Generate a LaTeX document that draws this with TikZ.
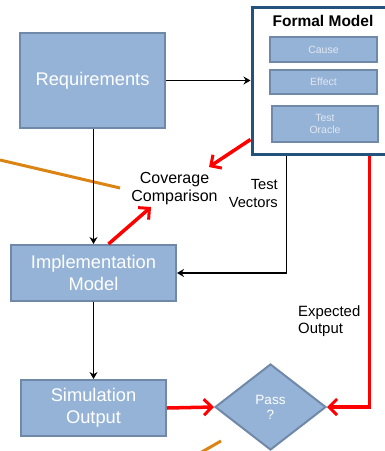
\documentclass[tikz,border=0pt]{standalone}
\usepackage{fontspec}
\setmainfont{Liberation Sans}
\usetikzlibrary{arrows.meta,shapes.geometric}
\definecolor{boxfill}{HTML}{95B3D7}
\definecolor{boxline}{HTML}{7089A8}
\definecolor{fmline}{HTML}{23527C}
\definecolor{smalltext}{HTML}{E2E8F2}
\definecolor{orangeline}{HTML}{DB8414}
\tikzset{
  bluebox/.style={draw=boxline, line width=2pt, fill=boxfill, text=white, align=center, inner sep=0pt, font=\fontsize{18.3}{21.5}\selectfont},
  smallbox/.style={draw=boxline, line width=2pt, fill=boxfill, text=smalltext, align=center, inner sep=0pt, font=\fontsize{10.5}{12}\selectfont, minimum width=106pt},
  blackarrow/.style={line width=1.8pt, -{Stealth[length=7pt,width=8pt]}},
  redarrow/.style={draw=red, line width=3.5pt, -{Straight Barb[length=8pt,width=16pt,line width=3pt]}},
  label/.style={align=center, inner sep=0pt, text=black},
  orange/.style={draw=orangeline, line width=3pt}
}
\begin{document}
\begin{tikzpicture}[x=1pt,y=-1pt]
\clip (0,0) rectangle (385,451);
\fill[white] (0,0) rectangle (385,451);
% boxes
\node[bluebox, minimum width=145pt, minimum height=95pt] (req) at (92.5,80.5) {Requirements};
\node[bluebox, minimum width=165pt, minimum height=56pt] (impl) at (93.5,273) {Implementation\\Model};
\node[bluebox, minimum width=145pt, minimum height=56pt] (sim) at (93.5,408) {Simulation\\Output};
\node[draw=fmline, line width=3pt, fill=white, minimum width=134pt, minimum height=147pt, inner sep=0pt] (fm) at (319,80.5) {};
\node[label, font=\bfseries\fontsize{15.5}{18}\selectfont] (fmtitle) at (323,21) {Formal Model};
\node[smallbox, minimum width=107pt, minimum height=25pt] (cause) at (323.5,49.5) {Cause};
\node[smallbox, minimum width=107pt, minimum height=24pt] (effect) at (323.5,82) {Effect};
\node[smallbox, minimum height=36pt] (oracle) at (325,124) {Test\\Oracle};
\node[draw=boxline, line width=2pt, fill=boxfill, shape=diamond, minimum width=111pt, minimum height=86pt, inner sep=0pt, text=white, align=center, font=\fontsize{13.5}{15}\selectfont] (pass) at (270.5,407) {Pass\\?};
% labels
\node[label, font=\fontsize{16}{18}\selectfont] (cov) at (174.5,189) {Coverage\\Comparison};
\node[label, align=right, anchor=east, font=\fontsize{14.7}{18}\selectfont] (tv) at (278,194) {Test\\Vectors};
\node[label, align=left, anchor=west, font=\fontsize{14.9}{17}\selectfont] (eo) at (298,321.5) {Expected\\Output};
% orange lines
\draw[orange] (0,160) -- (120,188);
\draw[orange] (200,453) -- (221,441);
% black connectors
\draw[blackarrow] (req.east) -- (fm.west |- req.east);
\draw[blackarrow] (req.south -| impl.north) -- (impl.north);
\draw[blackarrow] (impl.south) -- (sim.north);
\coordinate (tvstart) at ([xshift=36pt]fm.south west);
\draw[blackarrow] (tvstart) |- (impl.east);
% red connectors
\coordinate (rstart) at ([xshift=-18pt]fm.south east);
\draw[redarrow] (rstart) |- (pass.east);
\draw[redarrow] (sim.east) -- (pass.west);
\coordinate (covlow) at (151,207);
\coordinate (covhigh) at (209,167);
\draw[redarrow] ([xshift=15pt]impl.north) -- (covlow);
\draw[redarrow] ([yshift=16pt]fm.south west) -- (covhigh);
\end{tikzpicture}
\end{document}
